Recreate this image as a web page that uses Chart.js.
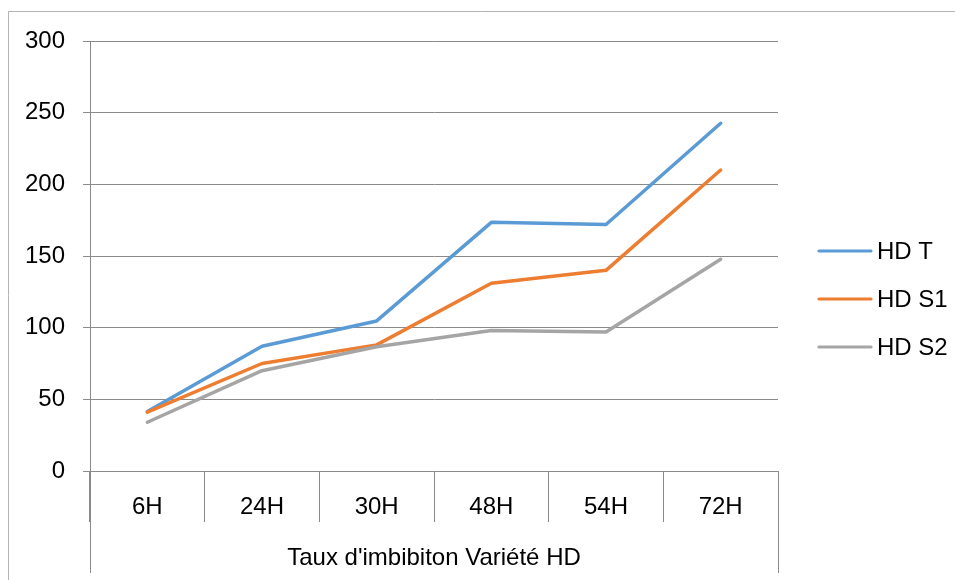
<!DOCTYPE html>
<html lang="fr">
<head>
  <meta charset="UTF-8">
  <title>Taux d'imbibiton Variété HD</title>
  <script src="https://cdn.jsdelivr.net/npm/chart.js"></script>
  <style>
    html, body { margin: 0; padding: 0; background: #fff; }
    .chart-wrapper { position: relative; width: 955px; height: 580px; }
  </style>
</head>
<body>

<div class="chart-wrapper">
  <canvas id="grafik"></canvas>
</div>

<script>
  // data
  const kategori = ['6H', '24H', '30H', '48H', '54H', '72H'];
  const hdT  = [41.5, 87, 104.7, 173.5, 172, 242.6];
  const hdS1 = [41, 75, 88, 131, 140, 210];
  const hdS2 = [34, 70, 86.7, 98, 97, 147.7];
  const yTicks = [0, 50, 100, 150, 200, 250, 300];
  const judulX = "Taux d'imbibiton Variété HD";

  const warnaGrid = '#8a8a8a';
  const warnaBingkai = '#b3b3b3';
  const fontUtama = { family: "'Liberation Sans', Arial, sans-serif", size: 24 };

  Chart.defaults.font.family = fontUtama.family;
  Chart.defaults.color = '#000';

  // bingkai, garis pemisah luar dan legenda digambar sendiri
  const pluginTambahan = {
    id: 'tambahan',
    afterDraw(chart) {
      const ctx = chart.ctx;
      const xs = chart.scales.x;
      const area = chart.chartArea;
      ctx.save();

      // bingkai luar
      ctx.strokeStyle = warnaBingkai;
      ctx.lineWidth = 1;
      ctx.beginPath();
      ctx.moveTo(8.5, chart.height);
      ctx.lineTo(8.5, 11.5);
      ctx.lineTo(chart.width, 11.5);
      ctx.stroke();

      // garis kiri & kanan sumbu kategori sampai bawah
      ctx.strokeStyle = warnaGrid;
      ctx.beginPath();
      ctx.moveTo(Math.round(xs.left) + 0.5, area.bottom);
      ctx.lineTo(Math.round(xs.left) + 0.5, 573);
      ctx.moveTo(Math.round(xs.right) + 0.5, area.bottom);
      ctx.lineTo(Math.round(xs.right) + 0.5, 573);
      ctx.stroke();

      // legenda
      ctx.font = fontUtama.size + 'px ' + fontUtama.family;
      ctx.textBaseline = 'middle';
      ctx.textAlign = 'left';
      chart.data.datasets.forEach((ds, i) => {
        const y = 251 + i * 48;
        ctx.strokeStyle = ds.borderColor;
        ctx.lineWidth = 3.2;
        ctx.lineCap = 'round';
        ctx.beginPath();
        ctx.moveTo(819, y);
        ctx.lineTo(871, y);
        ctx.stroke();
        ctx.fillStyle = '#000';
        ctx.fillText(ds.label, 877, y + 1);
      });
      ctx.restore();
    }
  };

  function buatSeri(label, data, warna, urutan) {
    return {
      label: label,
      data: data,
      borderColor: warna,
      backgroundColor: warna,
      borderWidth: 3.5,
      borderCapStyle: 'round',
      borderJoinStyle: 'round',
      pointRadius: 0,
      pointHoverRadius: 0,
      tension: 0,
      fill: false,
      order: urutan
    };
  }

  const ctx = document.getElementById('grafik').getContext('2d');
  const grafik = new Chart(ctx, {
    type: 'line',
    data: {
      labels: kategori,
      datasets: [
        buatSeri('HD T', hdT, '#5b9bd5', 3),
        buatSeri('HD S1', hdS1, '#ed7d31', 2),
        buatSeri('HD S2', hdS2, '#a5a5a5', 1)
      ]
    },
    options: {
      responsive: true,
      maintainAspectRatio: false,
      animation: false,
      layout: { padding: { left: 0, right: 177, top: 41, bottom: 0 } },
      plugins: {
        legend: { display: false },
        tooltip: { enabled: false },
        title: { display: false }
      },
      scales: {
        x: {
          offset: true,
          afterFit(scale) { scale.height = 109; },
          grid: {
            offset: true,
            drawOnChartArea: false,
            drawTicks: true,
            tickLength: 51,
            color: warnaGrid
          },
          border: { display: true, color: warnaGrid },
          ticks: { font: fontUtama, color: '#000', padding: -29, maxRotation: 0 },
          title: {
            display: true,
            text: judulX,
            font: fontUtama,
            color: '#000',
            padding: { top: 0, bottom: 7 }
          }
        },
        y: {
          min: 0,
          max: 300,
          afterFit(scale) { scale.width = 90; },
          afterBuildTicks(scale) { scale.ticks = yTicks.map(v => ({ value: v })); },
          grid: { color: warnaGrid, tickLength: 7, drawTicks: true },
          border: { display: true, color: warnaGrid },
          ticks: { font: fontUtama, color: '#000', padding: 18 }
        }
      }
    },
    plugins: [pluginTambahan]
  });
</script>

</body>
</html>
